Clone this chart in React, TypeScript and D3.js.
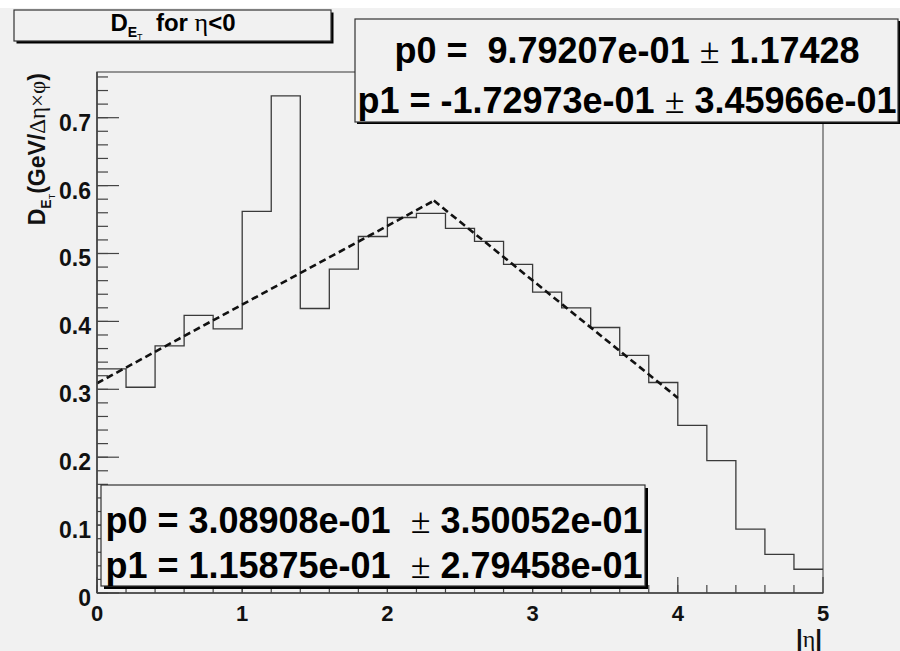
import React, { useRef, useEffect } from 'react';
import * as d3 from 'd3';

// bin low edges in |eta| (bin width 0.2)
const etaLow = [0, 0.2, 0.4, 0.6, 0.8, 1.0, 1.2, 1.4, 1.6, 1.8, 2.0, 2.2, 2.4, 2.6, 2.8, 3.0, 3.2, 3.4, 3.6, 3.8, 4.0, 4.2, 4.4, 4.6, 4.8];
const etaMax = 5;
// D_ET per bin (GeV / deta x dphi)
const detValues = [0.330, 0.303, 0.364, 0.409, 0.389, 0.562, 0.732, 0.419, 0.477, 0.525, 0.553, 0.559, 0.537, 0.518, 0.484, 0.443, 0.420, 0.391, 0.350, 0.310, 0.247, 0.195, 0.094, 0.057, 0.035];

// two linear fits: p0 + p1 * x
const fitP0 = [0.308908, 0.979207];
const fitP1 = [0.115875, -0.172973];
const fitXmin = [0, 2.32];
const fitXmax = [2.32, 4.0];

const xTickValues = [0, 1, 2, 3, 4, 5];
const xTickLabels = ['0', '1', '2', '3', '4', '5'];
const yTickValues = [0, 0.1, 0.2, 0.3, 0.4, 0.5, 0.6, 0.7];
const yTickLabels = ['0', '0.1', '0.2', '0.3', '0.4', '0.5', '0.6', '0.7'];

// stats box text, [before ±, after ±]
const topBoxLines = [['p0 =  9.79207e-01 ', ' 1.17428'], ['p1 = -1.72973e-01 ', ' 3.45966e-01']];
const bottomBoxLines = [['p0 = 3.08908e-01  ', ' 3.50052e-01'], ['p1 = 1.15875e-01  ', ' 2.79458e-01']];

const W = 900;
const H = 651;
const BG = '#f1f1f1';
const SANS = '"Liberation Sans", Arial, Helvetica, sans-serif';
const SYM = '"Liberation Serif", "DejaVu Serif", serif';

const App: React.FC = () => {
  const svgRef = useRef<SVGSVGElement | null>(null);

  useEffect(() => {
    if (!svgRef.current) return;
    const root = d3.select(svgRef.current);
    root.selectAll('*').remove();
    root.attr('width', W).attr('height', H);

    const frame = { left: 97, right: 823, top: 72, bottom: 593 };

    const x = d3.scaleLinear().domain([0, etaMax]).range([frame.left, frame.right]);
    const y = d3.scaleLinear().domain([0, 0.7673]).range([frame.bottom, frame.top]);

    // canvas
    root.append('rect').attr('width', W).attr('height', H).attr('fill', '#fff');
    root.append('rect').attr('y', 8).attr('width', W).attr('height', H - 8).attr('fill', BG);

    // frame
    root.append('rect')
      .attr('x', frame.left).attr('y', frame.top)
      .attr('width', frame.right - frame.left).attr('height', frame.bottom - frame.top)
      .attr('fill', 'none').attr('stroke', '#555').attr('stroke-width', 1.2);

    // histogram (step outline)
    const pts: [number, number][] = etaLow.map((e, i) => [e, detValues[i]]);
    pts.push([etaMax, detValues[detValues.length - 1]]);
    const step = d3.line<[number, number]>()
      .x(d => x(d[0]))
      .y(d => y(d[1]))
      .curve(d3.curveStepAfter);
    root.append('path')
      .attr('d', step(pts)!)
      .attr('fill', 'none').attr('stroke', '#3a3a3a').attr('stroke-width', 1.3);

    // fits
    const fitLine = d3.line<[number, number]>().x(d => x(d[0])).y(d => y(d[1]));
    fitP0.forEach((p0, i) => {
      const seg: [number, number][] = [fitXmin[i], fitXmax[i]].map(v => [v, p0 + fitP1[i] * v]);
      root.append('path')
        .attr('d', fitLine(seg)!)
        .attr('fill', 'none').attr('stroke', '#111').attr('stroke-width', 2.6)
        .attr('stroke-dasharray', '7,4');
    });

    // axes
    const axisColor = '#444';
    root.append('line')
      .attr('x1', frame.left).attr('x2', frame.right).attr('y1', frame.bottom).attr('y2', frame.bottom)
      .attr('stroke', axisColor).attr('stroke-width', 1.6);
    root.append('line')
      .attr('x1', frame.left).attr('x2', frame.left).attr('y1', frame.bottom).attr('y2', frame.top)
      .attr('stroke', axisColor).attr('stroke-width', 1.6);

    const yMinor = d3.range(0, 0.765, 0.02);
    root.append('g').selectAll('line').data(yMinor).enter().append('line')
      .attr('x1', frame.left).attr('x2', frame.left + 11)
      .attr('y1', d => y(d)).attr('y2', d => y(d))
      .attr('stroke', axisColor).attr('stroke-width', 1.2);
    root.append('g').selectAll('line').data(yTickValues).enter().append('line')
      .attr('x1', frame.left).attr('x2', frame.left + 22)
      .attr('y1', d => y(d)).attr('y2', d => y(d))
      .attr('stroke', axisColor).attr('stroke-width', 1.2);

    const xMinor = d3.range(0, 4.99, 0.2);
    root.append('g').selectAll('line').data(xMinor).enter().append('line')
      .attr('x1', d => x(d)).attr('x2', d => x(d))
      .attr('y1', frame.bottom).attr('y2', frame.bottom - 8)
      .attr('stroke', axisColor).attr('stroke-width', 1.2);
    root.append('g').selectAll('line').data(xTickValues).enter().append('line')
      .attr('x1', d => x(d)).attr('x2', d => x(d))
      .attr('y1', frame.bottom).attr('y2', frame.bottom - 16)
      .attr('stroke', axisColor).attr('stroke-width', 1.2);

    // tick labels
    root.append('g').selectAll('text').data(yTickValues).enter().append('text')
      .attr('x', 91).attr('y', d => y(d) + 13)
      .attr('text-anchor', 'end')
      .attr('font-family', SANS).attr('font-weight', 'bold').attr('font-size', 23)
      .attr('fill', '#111')
      .text((_, i) => yTickLabels[i]);
    root.append('g').selectAll('text').data(xTickValues).enter().append('text')
      .attr('x', d => x(d)).attr('y', 621)
      .attr('text-anchor', 'middle')
      .attr('font-family', SANS).attr('font-weight', 'bold').attr('font-size', 22)
      .attr('fill', '#111')
      .text((_, i) => xTickLabels[i]);

    // x title |eta|
    const xt = root.append('text')
      .attr('x', frame.right - 1).attr('y', 647)
      .attr('text-anchor', 'end').attr('font-size', 24).attr('fill', '#111');
    xt.append('tspan').attr('font-family', SANS).attr('font-weight', 'bold').text('|');
    xt.append('tspan').attr('font-family', SYM).text('η');
    xt.append('tspan').attr('font-family', SANS).attr('font-weight', 'bold').text('|');

    // y title
    const yt = root.append('text')
      .attr('transform', `translate(45,${frame.top + 1}) rotate(-90)`)
      .attr('text-anchor', 'end').attr('font-size', 23).attr('fill', '#111')
      .attr('font-family', SANS).attr('font-weight', 'bold');
    yt.append('tspan').text('D');
    yt.append('tspan').attr('font-size', 14).attr('dy', 6).text('E');
    yt.append('tspan').attr('font-size', 9).attr('dy', 4).attr('font-weight', 'normal').text('T');
    yt.append('tspan').attr('dy', -10).text('(GeV/');
    yt.append('tspan').attr('font-family', SYM).attr('font-weight', 'normal').text('Δη×φ');
    yt.append('tspan').text(')');

    // pave helper
    const pave = (x0: number, y0: number, x1: number, y1: number, sh: number) => {
      root.append('rect')
        .attr('x', x0 + sh).attr('y', y0 + sh).attr('width', x1 - x0).attr('height', y1 - y0)
        .attr('fill', '#000');
      root.append('rect')
        .attr('x', x0).attr('y', y0).attr('width', x1 - x0).attr('height', y1 - y0)
        .attr('fill', BG).attr('stroke', '#333').attr('stroke-width', 1.2);
    };

    const statText = (cx: number, by: number, parts: string[], size: number) => {
      const t = root.append('text')
        .attr('x', cx).attr('y', by)
        .attr('text-anchor', 'middle').attr('font-size', size).attr('fill', '#000')
        .style('white-space', 'pre');
      t.append('tspan').attr('font-family', SANS).attr('font-weight', 'bold').text(parts[0]);
      t.append('tspan').attr('font-family', SYM).text('±');
      t.append('tspan').attr('font-family', SANS).attr('font-weight', 'bold').text(parts[1]);
    };

    // title box
    pave(14, 10, 331, 41, 2.5);
    const tt = root.append('text')
      .attr('x', 173).attr('y', 31)
      .attr('text-anchor', 'middle').attr('font-size', 24).attr('fill', '#000')
      .attr('font-family', SANS).attr('font-weight', 'bold')
      .style('white-space', 'pre');
    tt.append('tspan').text('D');
    tt.append('tspan').attr('font-size', 14).attr('dy', 6).text('E');
    tt.append('tspan').attr('font-size', 9).attr('dy', 3).attr('font-weight', 'normal').text('T');
    tt.append('tspan').attr('dy', -9).text('  for ');
    tt.append('tspan').attr('font-family', SYM).attr('font-weight', 'normal').attr('font-size', 26).text('η');
    tt.append('tspan').text('<0');

    // fit result boxes
    pave(355, 19, 898, 122, 2);
    topBoxLines.forEach((p, i) => statText(627, 63 + i * 50, p, 36));

    pave(101, 485, 645, 586, 3);
    bottomBoxLines.forEach((p, i) => statText(374, 533 + i * 45, p, 36));
  }, []);

  return (
    <div style={{ position: 'absolute', left: 0, top: 0 }}>
      <svg ref={svgRef} style={{ display: 'block' }}></svg>
    </div>
  );
};

export default App;
